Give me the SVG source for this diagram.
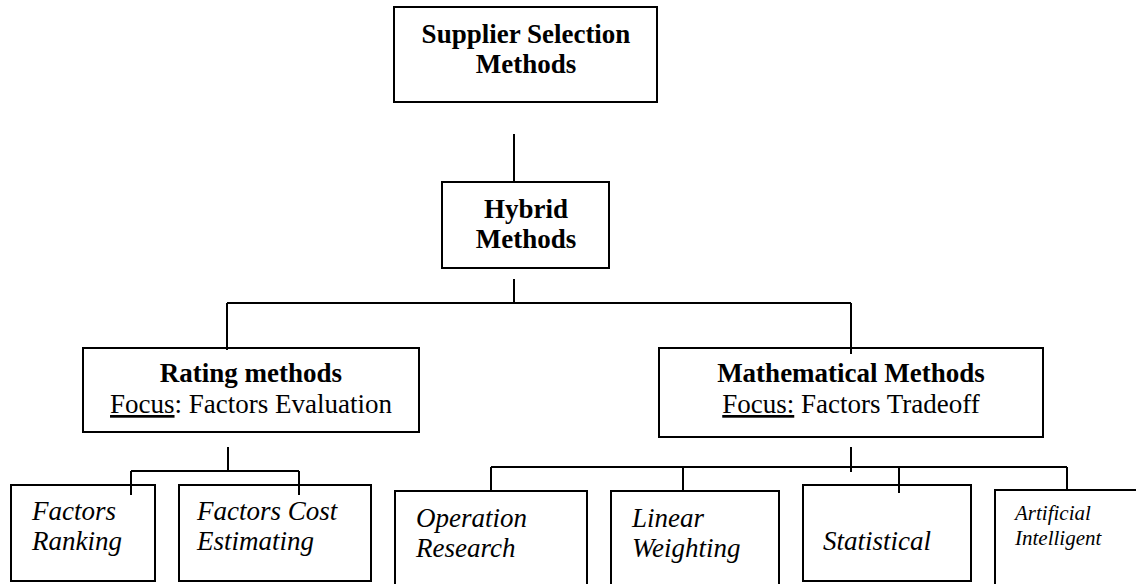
<svg xmlns="http://www.w3.org/2000/svg" width="1136" height="584" viewBox="0 0 1136 584">
  <style>
    .box { fill: #fff; stroke: #000; stroke-width: 2; }
    .wire { fill: none; stroke: #000; stroke-width: 2; }
    text { font-family: "Liberation Serif", "Times New Roman", serif; fill: #000; }
    .title { font-size: 27px; font-weight: bold; text-anchor: middle; }
    .sub { font-size: 27px; text-anchor: middle; }
    .leaf { font-size: 27px; font-style: italic; }
    .leaf-sm { font-size: 21px; font-style: italic; }
    .u { text-decoration: underline; }
  </style>
  <rect x="0" y="0" width="1136" height="584" fill="#fff"/>

  <g id="connectors">
    <path class="wire" d="M514 134 V182"/>
    <path class="wire" d="M514 279 V303 M227 303 H851 M227 303 V350 M851 303 V354"/>
    <path class="wire" d="M228 447 V471 M131 471 H299 M131 471 V495 M299 471 V495"/>
    <path class="wire" d="M851 447 V472 M491 467 H1067 M491 467 V491 M683 467 V491 M899 467 V493 M1067 467 V490"/>
  </g>

  <g id="supplier-selection">
    <rect class="box" x="394" y="7" width="263" height="95"/>
    <text class="title" x="526" y="43">Supplier Selection</text>
    <text class="title" x="526" y="73">Methods</text>
  </g>

  <g id="hybrid">
    <rect class="box" x="442" y="182" width="167" height="86"/>
    <text class="title" x="526" y="218">Hybrid</text>
    <text class="title" x="526" y="248">Methods</text>
  </g>

  <g id="rating">
    <rect class="box" x="83" y="348" width="336" height="84"/>
    <text class="title" x="251" y="382">Rating methods</text>
    <text class="sub" x="251" y="413"><tspan class="u">Focus</tspan>: Factors Evaluation</text>
  </g>

  <g id="mathematical">
    <rect class="box" x="659" y="348" width="384" height="89"/>
    <text class="title" x="851" y="382">Mathematical Methods</text>
    <text class="sub" x="851" y="413"><tspan class="u">Focus:</tspan> Factors Tradeoff</text>
  </g>

  <g id="factors-ranking">
    <rect class="box" x="11" y="485" width="144" height="96"/>
    <text class="leaf" x="32" y="520">Factors</text>
    <text class="leaf" x="32" y="550">Ranking</text>
  </g>

  <g id="factors-cost">
    <rect class="box" x="179" y="485" width="192" height="96"/>
    <text class="leaf" x="197" y="520">Factors Cost</text>
    <text class="leaf" x="197" y="550">Estimating</text>
  </g>

  <g id="operation-research">
    <rect class="box" x="395" y="491" width="192" height="110"/>
    <text class="leaf" x="416" y="527">Operation</text>
    <text class="leaf" x="416" y="557">Research</text>
  </g>

  <g id="linear-weighting">
    <rect class="box" x="611" y="491" width="168" height="110"/>
    <text class="leaf" x="632" y="527">Linear</text>
    <text class="leaf" x="632" y="557">Weighting</text>
  </g>

  <g id="statistical">
    <rect class="box" x="803" y="485" width="168" height="96"/>
    <text class="leaf" x="823" y="550">Statistical</text>
  </g>

  <g id="artificial-intelligent">
    <rect class="box" x="995" y="490" width="160" height="110"/>
    <text class="leaf-sm" x="1015" y="520">Artificial</text>
    <text class="leaf-sm" x="1015" y="545">Intelligent</text>
  </g>

  <!-- connector tips drawn over box tops -->
  <g id="connector-tips">
    <path class="wire" d="M227 347 V350 M851 347 V354 M131 484 V495 M299 484 V495 M899 484 V493"/>
  </g>
</svg>
